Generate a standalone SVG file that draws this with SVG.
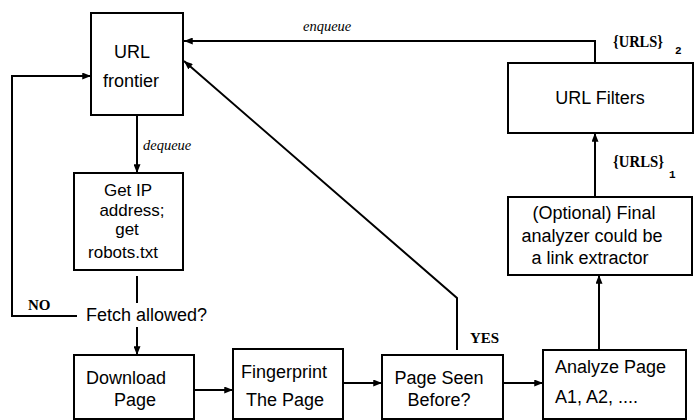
<svg xmlns="http://www.w3.org/2000/svg" width="695" height="420" viewBox="0 0 695 420">
<defs>
<marker id="ah" viewBox="0 0 10 8" refX="10" refY="4" markerWidth="9" markerHeight="7" markerUnits="userSpaceOnUse" orient="auto">
<path d="M0,0 L10,4 L0,8 Z" fill="#000"/>
</marker>
<style>
.box{fill:#fff;stroke:#000;stroke-width:2}
.t{font-family:"Liberation Sans",Arial,sans-serif;font-size:18px;fill:#000}
.s{font-size:17px}
.lbl{font-family:"Liberation Serif","Times New Roman",serif;font-style:italic;font-size:14.5px;fill:#000}
.bl{font-family:"Liberation Serif","Times New Roman",serif;font-weight:bold;font-size:15px;fill:#000}
.u{font-size:16.5px}
.sub{font-family:"Liberation Mono","Courier New",monospace;font-weight:bold;font-size:11px;fill:#000}
.c{fill:none;stroke:#000;stroke-width:2}
.ca{fill:none;stroke:#000;stroke-width:2;marker-end:url(#ah)}
</style>
</defs>
<rect width="695" height="420" fill="#fff"/>
<g id="connectors">
<polyline class="ca" points="595,63 595,41 184,41"/>
<polyline class="ca" points="457,350 457,298 184,61"/>
<line class="ca" x1="137" y1="115" x2="137" y2="173"/>
<polyline class="ca" points="77,316 12,316 12,76 91,76"/>
<line class="c" x1="137" y1="276" x2="137" y2="303"/>
<line class="ca" x1="137" y1="327" x2="137" y2="355"/>
<line class="ca" x1="194" y1="390" x2="233" y2="390"/>
<line class="ca" x1="343" y1="383" x2="382" y2="383"/>
<line class="ca" x1="503" y1="383" x2="543" y2="383"/>
<line class="ca" x1="599" y1="350" x2="599" y2="275"/>
<line class="ca" x1="595" y1="197" x2="595" y2="133"/>
<text class="lbl" x="303" y="31">enqueue</text>
<text class="lbl" x="143" y="150">dequeue</text>
<text class="bl" x="28" y="310">NO</text>
<text class="bl" x="470" y="343">YES</text>
<text class="bl u" x="613" y="47" textLength="50" lengthAdjust="spacingAndGlyphs">{URLS}</text>
<text class="sub" x="675" y="54">2</text>
<text class="bl u" x="613" y="167" textLength="51" lengthAdjust="spacingAndGlyphs">{URLS}</text>
<text class="sub" x="669" y="178">1</text>
<text class="t" x="86" y="321">Fetch allowed?</text>
</g>
<g id="frontier">
<rect class="box" x="91" y="13" width="92" height="102"/>
<text class="t" x="132" y="58" text-anchor="middle">URL</text>
<text class="t" x="131" y="87" text-anchor="middle">frontier</text>
</g>
<g id="getip">
<rect class="box" x="74" y="173" width="109" height="97"/>
<text class="t s" x="128" y="196" text-anchor="middle">Get IP</text>
<text class="t s" x="132" y="216" text-anchor="middle">address;</text>
<text class="t s" x="127" y="235" text-anchor="middle">get</text>
<text class="t s" x="123" y="258" text-anchor="middle">robots.txt</text>
</g>
<g id="download">
<rect class="box" x="74" y="355" width="120" height="64"/>
<text class="t" x="126" y="384" text-anchor="middle">Download</text>
<text class="t" x="135" y="406" text-anchor="middle">Page</text>
</g>
<g id="fingerprint">
<rect class="box" x="233" y="349" width="110" height="70"/>
<text class="t" x="284" y="378" text-anchor="middle">Fingerprint</text>
<text class="t" x="285" y="406" text-anchor="middle">The Page</text>
</g>
<g id="seen">
<rect class="box" x="382" y="355" width="121" height="64"/>
<text class="t" x="439" y="384" text-anchor="middle">Page Seen</text>
<text class="t" x="439" y="406" text-anchor="middle">Before?</text>
</g>
<g id="analyze">
<rect class="box" x="543" y="350" width="143" height="69"/>
<text class="t" x="555" y="373">Analyze Page</text>
<text class="t" x="555" y="403">A1, A2, ....</text>
</g>
<g id="optional">
<rect class="box" x="508" y="197" width="184" height="78"/>
<text class="t" x="594" y="219" text-anchor="middle">(Optional) Final</text>
<text class="t" x="592" y="242" text-anchor="middle">analyzer could be</text>
<text class="t" x="590" y="264" text-anchor="middle">a link extractor</text>
</g>
<g id="filters">
<rect class="box" x="508" y="63" width="185" height="70"/>
<text class="t" x="600" y="104" text-anchor="middle">URL Filters</text>
</g>
</svg>
